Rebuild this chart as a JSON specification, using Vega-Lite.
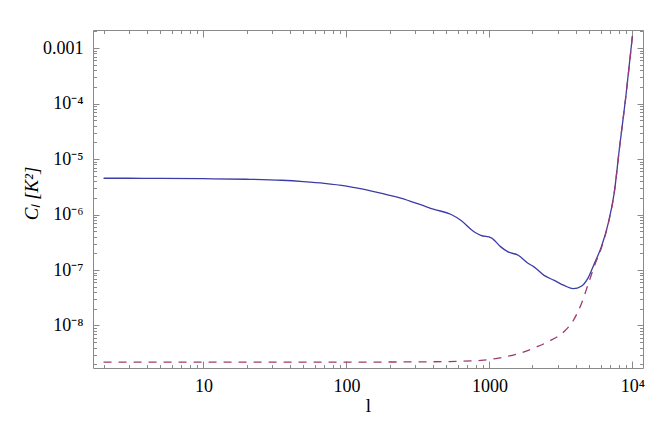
{
  "$schema": "https://vega.github.io/schema/vega-lite/v6.json",
  "width": 550,
  "height": 338,
  "autosize": {"type": "none"},
  "padding": {"left": 93, "top": 30, "right": 11, "bottom": 68},
  "background": "white",
  "config": {
    "view": {"stroke": null},
    "axis": {
      "grid": false,
      "domainColor": "#8a8a8a",
      "tickColor": "#8a8a8a",
      "domainWidth": 1,
      "tickWidth": 1,
      "labelFont": "Liberation Serif",
      "labelFontSize": 18,
      "labelColor": "#000000",
      "titleFont": "Liberation Serif",
      "titleFontSize": 19,
      "titleFontWeight": "normal",
      "titleColor": "#000000"
    }
  },
  "data": {
    "values": [
      {"l": 2, "C": 4.5e-6, "s": "total"},
      {"l": 3, "C": 4.5e-6, "s": "total"},
      {"l": 5, "C": 4.48e-6, "s": "total"},
      {"l": 10, "C": 4.42e-6, "s": "total"},
      {"l": 20, "C": 4.32e-6, "s": "total"},
      {"l": 35, "C": 4.14e-6, "s": "total"},
      {"l": 50, "C": 3.92e-6, "s": "total"},
      {"l": 70, "C": 3.65e-6, "s": "total"},
      {"l": 100, "C": 3.25e-6, "s": "total"},
      {"l": 150, "C": 2.65e-6, "s": "total"},
      {"l": 240, "C": 1.97e-6, "s": "total"},
      {"l": 330, "C": 1.5e-6, "s": "total"},
      {"l": 410, "C": 1.24e-6, "s": "total"},
      {"l": 540, "C": 1.0e-6, "s": "total"},
      {"l": 630, "C": 7.9e-7, "s": "total"},
      {"l": 780, "C": 4.9e-7, "s": "total"},
      {"l": 870, "C": 4.22e-7, "s": "total"},
      {"l": 1030, "C": 3.8e-7, "s": "total"},
      {"l": 1200, "C": 2.61e-7, "s": "total"},
      {"l": 1350, "C": 2.12e-7, "s": "total"},
      {"l": 1590, "C": 1.84e-7, "s": "total"},
      {"l": 1860, "C": 1.32e-7, "s": "total"},
      {"l": 2050, "C": 1.14e-7, "s": "total"},
      {"l": 2410, "C": 8.0e-8, "s": "total"},
      {"l": 2840, "C": 6.5e-8, "s": "total"},
      {"l": 3330, "C": 5.27e-8, "s": "total"},
      {"l": 3860, "C": 4.6e-8, "s": "total"},
      {"l": 4390, "C": 5.1e-8, "s": "total"},
      {"l": 4910, "C": 7.3e-8, "s": "total"},
      {"l": 5410, "C": 1.3e-7, "s": "total"},
      {"l": 6060, "C": 2.6e-7, "s": "total"},
      {"l": 6780, "C": 7.0e-7, "s": "total"},
      {"l": 7470, "C": 2.5e-6, "s": "total"},
      {"l": 8100, "C": 1.5e-5, "s": "total"},
      {"l": 9000, "C": 1.35e-4, "s": "total"},
      {"l": 10000, "C": 1.65e-3, "s": "total"},
      {"l": 2, "C": 2.19e-9, "s": "noise"},
      {"l": 10, "C": 2.19e-9, "s": "noise"},
      {"l": 100, "C": 2.19e-9, "s": "noise"},
      {"l": 300, "C": 2.21e-9, "s": "noise"},
      {"l": 600, "C": 2.26e-9, "s": "noise"},
      {"l": 870, "C": 2.35e-9, "s": "noise"},
      {"l": 1250, "C": 2.68e-9, "s": "noise"},
      {"l": 1650, "C": 3.2e-9, "s": "noise"},
      {"l": 2130, "C": 4.1e-9, "s": "noise"},
      {"l": 2570, "C": 5.1e-9, "s": "noise"},
      {"l": 3330, "C": 7.8e-9, "s": "noise"},
      {"l": 3860, "C": 1.23e-8, "s": "noise"},
      {"l": 4390, "C": 2.45e-8, "s": "noise"},
      {"l": 4910, "C": 5.6e-8, "s": "noise"},
      {"l": 5410, "C": 1.17e-7, "s": "noise"},
      {"l": 6060, "C": 2.48e-7, "s": "noise"},
      {"l": 6780, "C": 6.9e-7, "s": "noise"},
      {"l": 7470, "C": 2.5e-6, "s": "noise"},
      {"l": 8100, "C": 1.5e-5, "s": "noise"},
      {"l": 9000, "C": 1.35e-4, "s": "noise"},
      {"l": 10000, "C": 1.65e-3, "s": "noise"}
    ]
  },
  "resolve": {"scale": {"x": "shared", "y": "shared"}, "axis": {"x": "independent", "y": "independent"}},
  "layer": [
    {
      "transform": [{"filter": "datum.s == 'total'"}],
      "mark": {"type": "line", "color": "#3c3ca6", "strokeWidth": 1.3, "interpolate": "monotone", "clip": true},
      "encoding": {
        "x": {"field": "l", "type": "quantitative",
          "scale": {"type": "log", "domain": [1.687, 11860], "nice": false, "zero": false},
          "axis": {"orient": "bottom", "values": [10, 100, 1000, 10000], "tickSize": -7, "labelPadding": 16,
            "labelExpr": "datum.value > 5000 ? '10⁴' : datum.value > 500 ? '1000' : datum.value > 50 ? '100' : '10'",
            "title": "l", "titleBaseline": "alphabetic", "titleY": 43}},
        "y": {"field": "C", "type": "quantitative",
          "scale": {"type": "log", "domain": [1.714e-9, 2.113e-3], "nice": false, "zero": false},
          "axis": {"orient": "left", "values": [1e-8, 1e-7, 1e-6, 1e-5, 1e-4, 1e-3], "tickSize": -6, "labelPadding": 16,
            "labelExpr": "datum.value > 5e-4 ? '0.001' : datum.value > 5e-5 ? '10⁻⁴' : datum.value > 5e-6 ? '10⁻⁵' : datum.value > 5e-7 ? '10⁻⁶' : datum.value > 5e-8 ? '10⁻⁷' : '10⁻⁸'",
            "title": "Cₗ [K²]", "titleFontStyle": "italic", "titleX": -62, "titleY": 163, "titleBaseline": "middle"}}
      }
    },
    {
      "transform": [{"filter": "datum.s == 'noise'"}],
      "mark": {"type": "line", "color": "#9c3a6e", "strokeWidth": 1.3, "strokeDash": [8, 7], "interpolate": "monotone", "clip": true},
      "encoding": {
        "x": {"field": "l", "type": "quantitative",
          "axis": {"orient": "bottom", "values": [2,3,4,5,6,7,8,9,20,30,40,50,60,70,80,90,200,300,400,500,600,700,800,900,2000,3000,4000,5000,6000,7000,8000,9000],
            "tickSize": -3.5, "labels": false, "domain": false, "title": null}},
        "y": {"field": "C", "type": "quantitative",
          "axis": {"orient": "left", "values": [2e-9,3e-9,4e-9,5e-9,6e-9,7e-9,8e-9,9e-9,2e-8,3e-8,4e-8,5e-8,6e-8,7e-8,8e-8,9e-8,2e-7,3e-7,4e-7,5e-7,6e-7,7e-7,8e-7,9e-7,2e-6,3e-6,4e-6,5e-6,6e-6,7e-6,8e-6,9e-6,2e-5,3e-5,4e-5,5e-5,6e-5,7e-5,8e-5,9e-5,2e-4,3e-4,4e-4,5e-4,6e-4,7e-4,8e-4,9e-4,2e-3],
            "tickSize": -3.5, "labels": false, "domain": false, "title": null}}
      }
    },
    {
      "transform": [{"filter": "datum.s == 'total'"}],
      "mark": {"type": "line", "opacity": 0},
      "encoding": {
        "x": {"field": "l", "type": "quantitative",
          "axis": {"orient": "top", "values": [10, 100, 1000, 10000], "tickSize": -7, "labels": false, "title": null}},
        "y": {"field": "C", "type": "quantitative",
          "axis": {"orient": "right", "values": [1e-8, 1e-7, 1e-6, 1e-5, 1e-4, 1e-3], "tickSize": -6, "labels": false, "title": null}}
      }
    },
    {
      "transform": [{"filter": "datum.s == 'total'"}],
      "mark": {"type": "line", "opacity": 0},
      "encoding": {
        "x": {"field": "l", "type": "quantitative",
          "axis": {"orient": "top", "values": [2,3,4,5,6,7,8,9,20,30,40,50,60,70,80,90,200,300,400,500,600,700,800,900,2000,3000,4000,5000,6000,7000,8000,9000],
            "tickSize": -3.5, "labels": false, "domain": false, "title": null}},
        "y": {"field": "C", "type": "quantitative",
          "axis": {"orient": "right", "values": [2e-9,3e-9,4e-9,5e-9,6e-9,7e-9,8e-9,9e-9,2e-8,3e-8,4e-8,5e-8,6e-8,7e-8,8e-8,9e-8,2e-7,3e-7,4e-7,5e-7,6e-7,7e-7,8e-7,9e-7,2e-6,3e-6,4e-6,5e-6,6e-6,7e-6,8e-6,9e-6,2e-5,3e-5,4e-5,5e-5,6e-5,7e-5,8e-5,9e-5,2e-4,3e-4,4e-4,5e-4,6e-4,7e-4,8e-4,9e-4,2e-3],
            "tickSize": -3.5, "labels": false, "domain": false, "title": null}}
      }
    }
  ]
}
